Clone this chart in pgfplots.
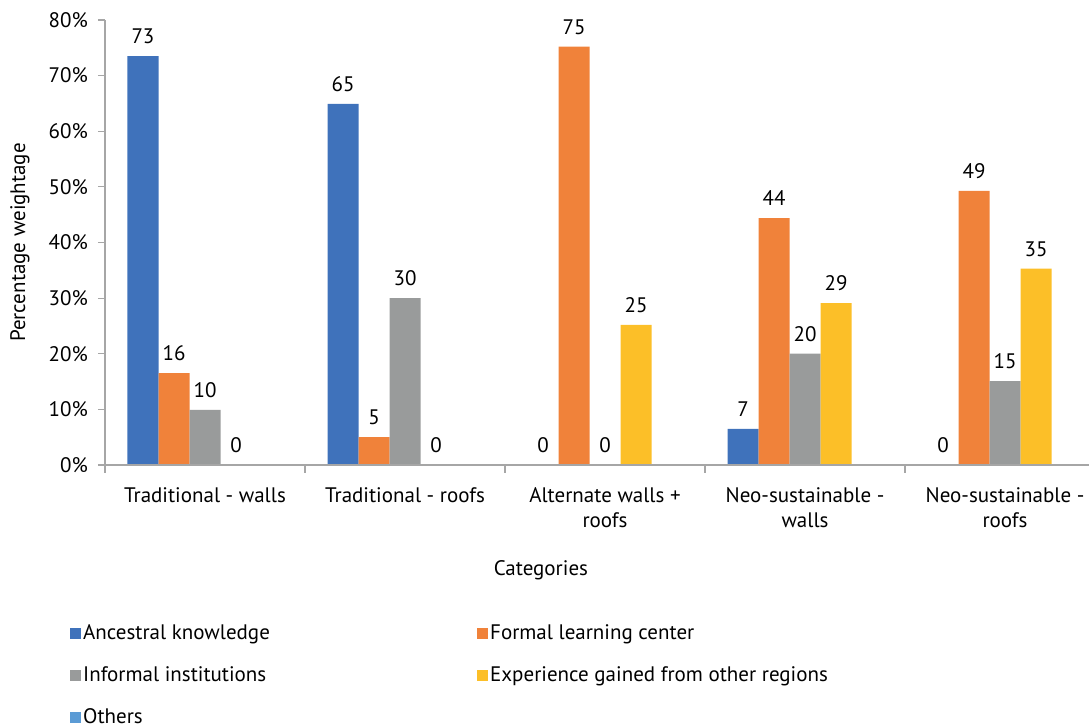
\documentclass[border=0pt]{standalone}
\usepackage{pgfplots}
\pgfplotsset{compat=1.18}
\usepackage{fontspec}
\setmainfont{PT Sans}
\definecolor{cAnc}{HTML}{3F72BB}
\definecolor{cFor}{HTML}{F0823A}
\definecolor{cInf}{HTML}{999B9B}
\definecolor{cExp}{HTML}{FCBF28}
\definecolor{cOth}{HTML}{5B9BD5}
\definecolor{axgray}{HTML}{A6A6A6}
\begin{document}
\fontsize{21}{25}\selectfont
\begin{tikzpicture}[x=1pt,y=1pt,font=\fontsize{21}{25}\selectfont]
\begin{axis}[
    at={(105pt,260pt)}, anchor=south west,
    scale only axis, width=984pt, height=445pt,
    ybar=0pt, bar width=31pt,
    xmin=-0.5, xmax=4.42,
    ymin=0, ymax=80,
    axis on top,
    axis x line*=bottom, axis y line*=left,
    axis line style={draw=axgray, line width=1.5pt, -},
    tick align=outside,
    major tick length=7pt, minor tick length=8pt,
    every tick/.style={draw=axgray, line width=1.2pt},
    ytick={0,10,...,80},
    yticklabel={\pgfmathprintnumber{\tick}\%},
    yticklabel style={xshift=-3pt},
    /pgf/number format/assume math mode=true,
    xtick={0,...,4},
    xticklabels={Traditional - walls, Traditional - roofs, {Alternate walls +\\roofs}, {Neo-sustainable -\\walls}, {Neo-sustainable -\\roofs}},
    xticklabel style={align=center, yshift=-8pt},
    major x tick style={draw=none},
    minor xtick={-0.5,0.5,1.5,2.5,3.5},
    ylabel={Percentage weightage},
    ylabel style={at={(axis description cs:-0.0864,0.5)}, anchor=center},
    xlabel={Categories},
    xlabel style={at={(axis description cs:0.443,-0.236)}, anchor=center},
    point meta=explicit,
    every node near coord/.append style={text=black, yshift=5pt},
    legend columns=2,
    legend cell align=left,
    legend style={at={(axis description cs:-0.0356,-0.353)}, anchor=north west,
        draw=none, fill=none, inner sep=0pt, row sep=20pt},
    legend image code/.code={\fill[#1] (0pt,-5.5pt) rectangle (11pt,5.5pt);},
]
\addplot[fill=cAnc, draw=none, nodes near coords] coordinates {
    (0,73.5) [73] (1,64.9) [65] (2,0) [0] (3,6.5) [7] (4,0) [0]};
\addlegendentry{\makebox[392pt][l]{Ancestral knowledge}}
\addplot[fill=cFor, draw=none, nodes near coords] coordinates {
    (0,16.5) [16] (1,5.0) [5] (2,75.2) [75] (3,44.4) [44] (4,49.3) [49]};
\addlegendentry{Formal learning center}
\addplot[fill=cInf, draw=none, nodes near coords] coordinates {
    (0,9.9) [10] (1,30.0) [30] (2,0) [0] (3,20.0) [20] (4,15.1) [15]};
\addlegendentry{\makebox[392pt][l]{Informal institutions}}
\addplot[fill=cExp, draw=none, nodes near coords] coordinates {
    (0,0) [0] (1,0) [0] (2,25.2) [25] (3,29.1) [29] (4,35.3) [35]};
\addlegendentry{Experience gained from other regions}
\addplot[fill=cOth, draw=none] coordinates {
    (0,0) [0] (1,0) [0] (2,0) [0] (3,0) [0] (4,0) [0]};
\addlegendentry{Others}
\end{axis}
\pgfresetboundingbox
\useasboundingbox (0,0) rectangle (1089,725);
\end{tikzpicture}
\end{document}
